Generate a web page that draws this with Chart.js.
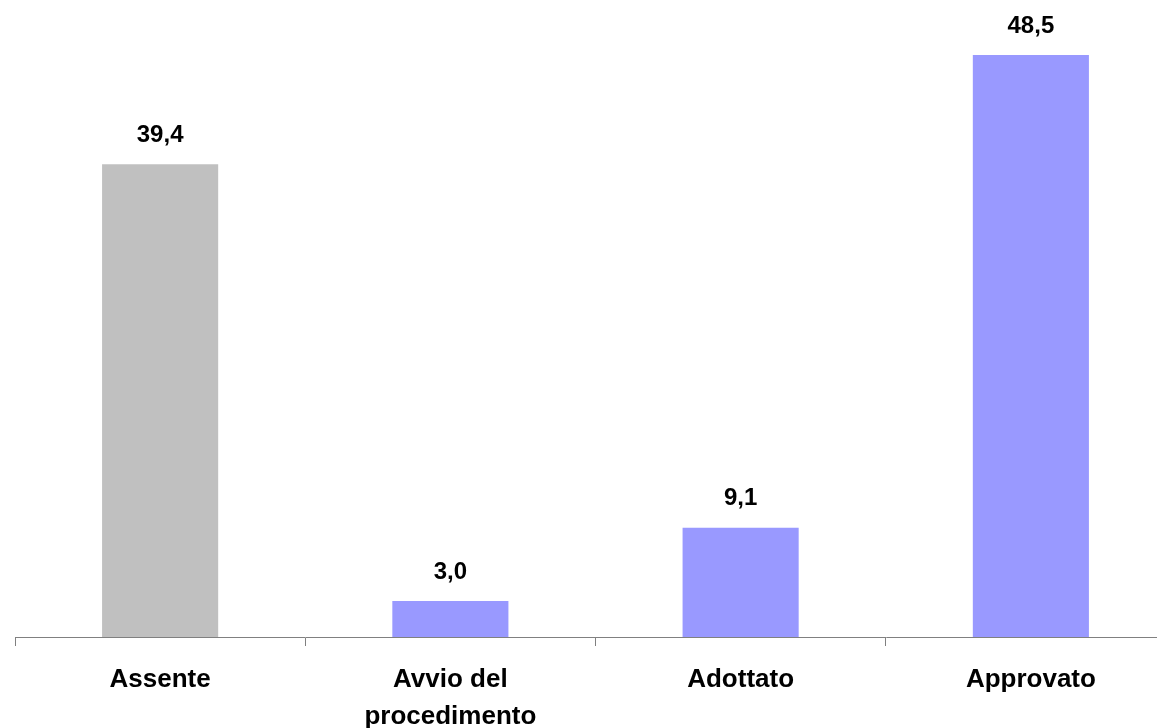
<!DOCTYPE html>
<html>
<head>
<meta charset="utf-8">
<script src="https://cdn.jsdelivr.net/npm/chart.js@4"></script>
<style>
  html, body { margin: 0; padding: 0; background: #fff; overflow: hidden; }
  #wrap { width: 1176px; height: 728px; }
</style>
</head>
<body>
<div id="wrap"><canvas id="myChart" width="1176" height="728"></canvas></div>
<script>
// Chart data
const categories = ["Assente", ["Avvio del", "procedimento"], "Adottato", "Approvato"];
const values = [39.4, 3.0, 9.1, 48.5];
const barColors = ["#C0C0C0", "#9999FF", "#9999FF", "#9999FF"];

// Draw value labels above each bar, with comma as decimal sign
const valueLabels = {
  id: "valueLabels",
  afterDatasetsDraw(chart) {
    const ctx = chart.ctx;
    const meta = chart.getDatasetMeta(0);
    ctx.save();
    ctx.font = "bold 24px 'Liberation Sans', Arial, sans-serif";
    ctx.fillStyle = "#000";
    ctx.textAlign = "center";
    ctx.textBaseline = "middle";
    meta.data.forEach((bar, i) => {
      const txt = values[i].toFixed(1).replace(".", ",");
      ctx.fillText(txt, bar.x, bar.y - 29);
    });
    ctx.restore();
  }
};

const ctx = document.getElementById("myChart").getContext("2d");
const myChart = new Chart(ctx, {
  type: "bar",
  data: {
    labels: categories,
    datasets: [{
      data: values,
      backgroundColor: barColors,
      borderWidth: 0,
      barPercentage: 0.4,
      categoryPercentage: 1.0
    }]
  },
  options: {
    responsive: false,
    animation: false,
    layout: { padding: { left: 15, right: 0, top: 37, bottom: 0 } },
    plugins: {
      legend: { display: false },
      tooltip: { enabled: false }
    },
    scales: {
      y: {
        display: false,
        min: 0,
        max: 50
      },
      x: {
        afterFit(scale) { scale.height = 91; },
        border: { display: true, color: "#808080", width: 1 },
        grid: {
          display: true,
          drawOnChartArea: false,
          drawTicks: true,
          tickLength: 9,
          color: "#808080",
          offset: true
        },
        ticks: {
          color: "#000",
          padding: 15,
          maxRotation: 0,
          autoSkip: false,
          font: { family: "'Liberation Sans', Arial, sans-serif", size: 26, weight: "bold", lineHeight: 1.42 }
        }
      }
    }
  },
  plugins: [valueLabels]
});
</script>
</body>
</html>
